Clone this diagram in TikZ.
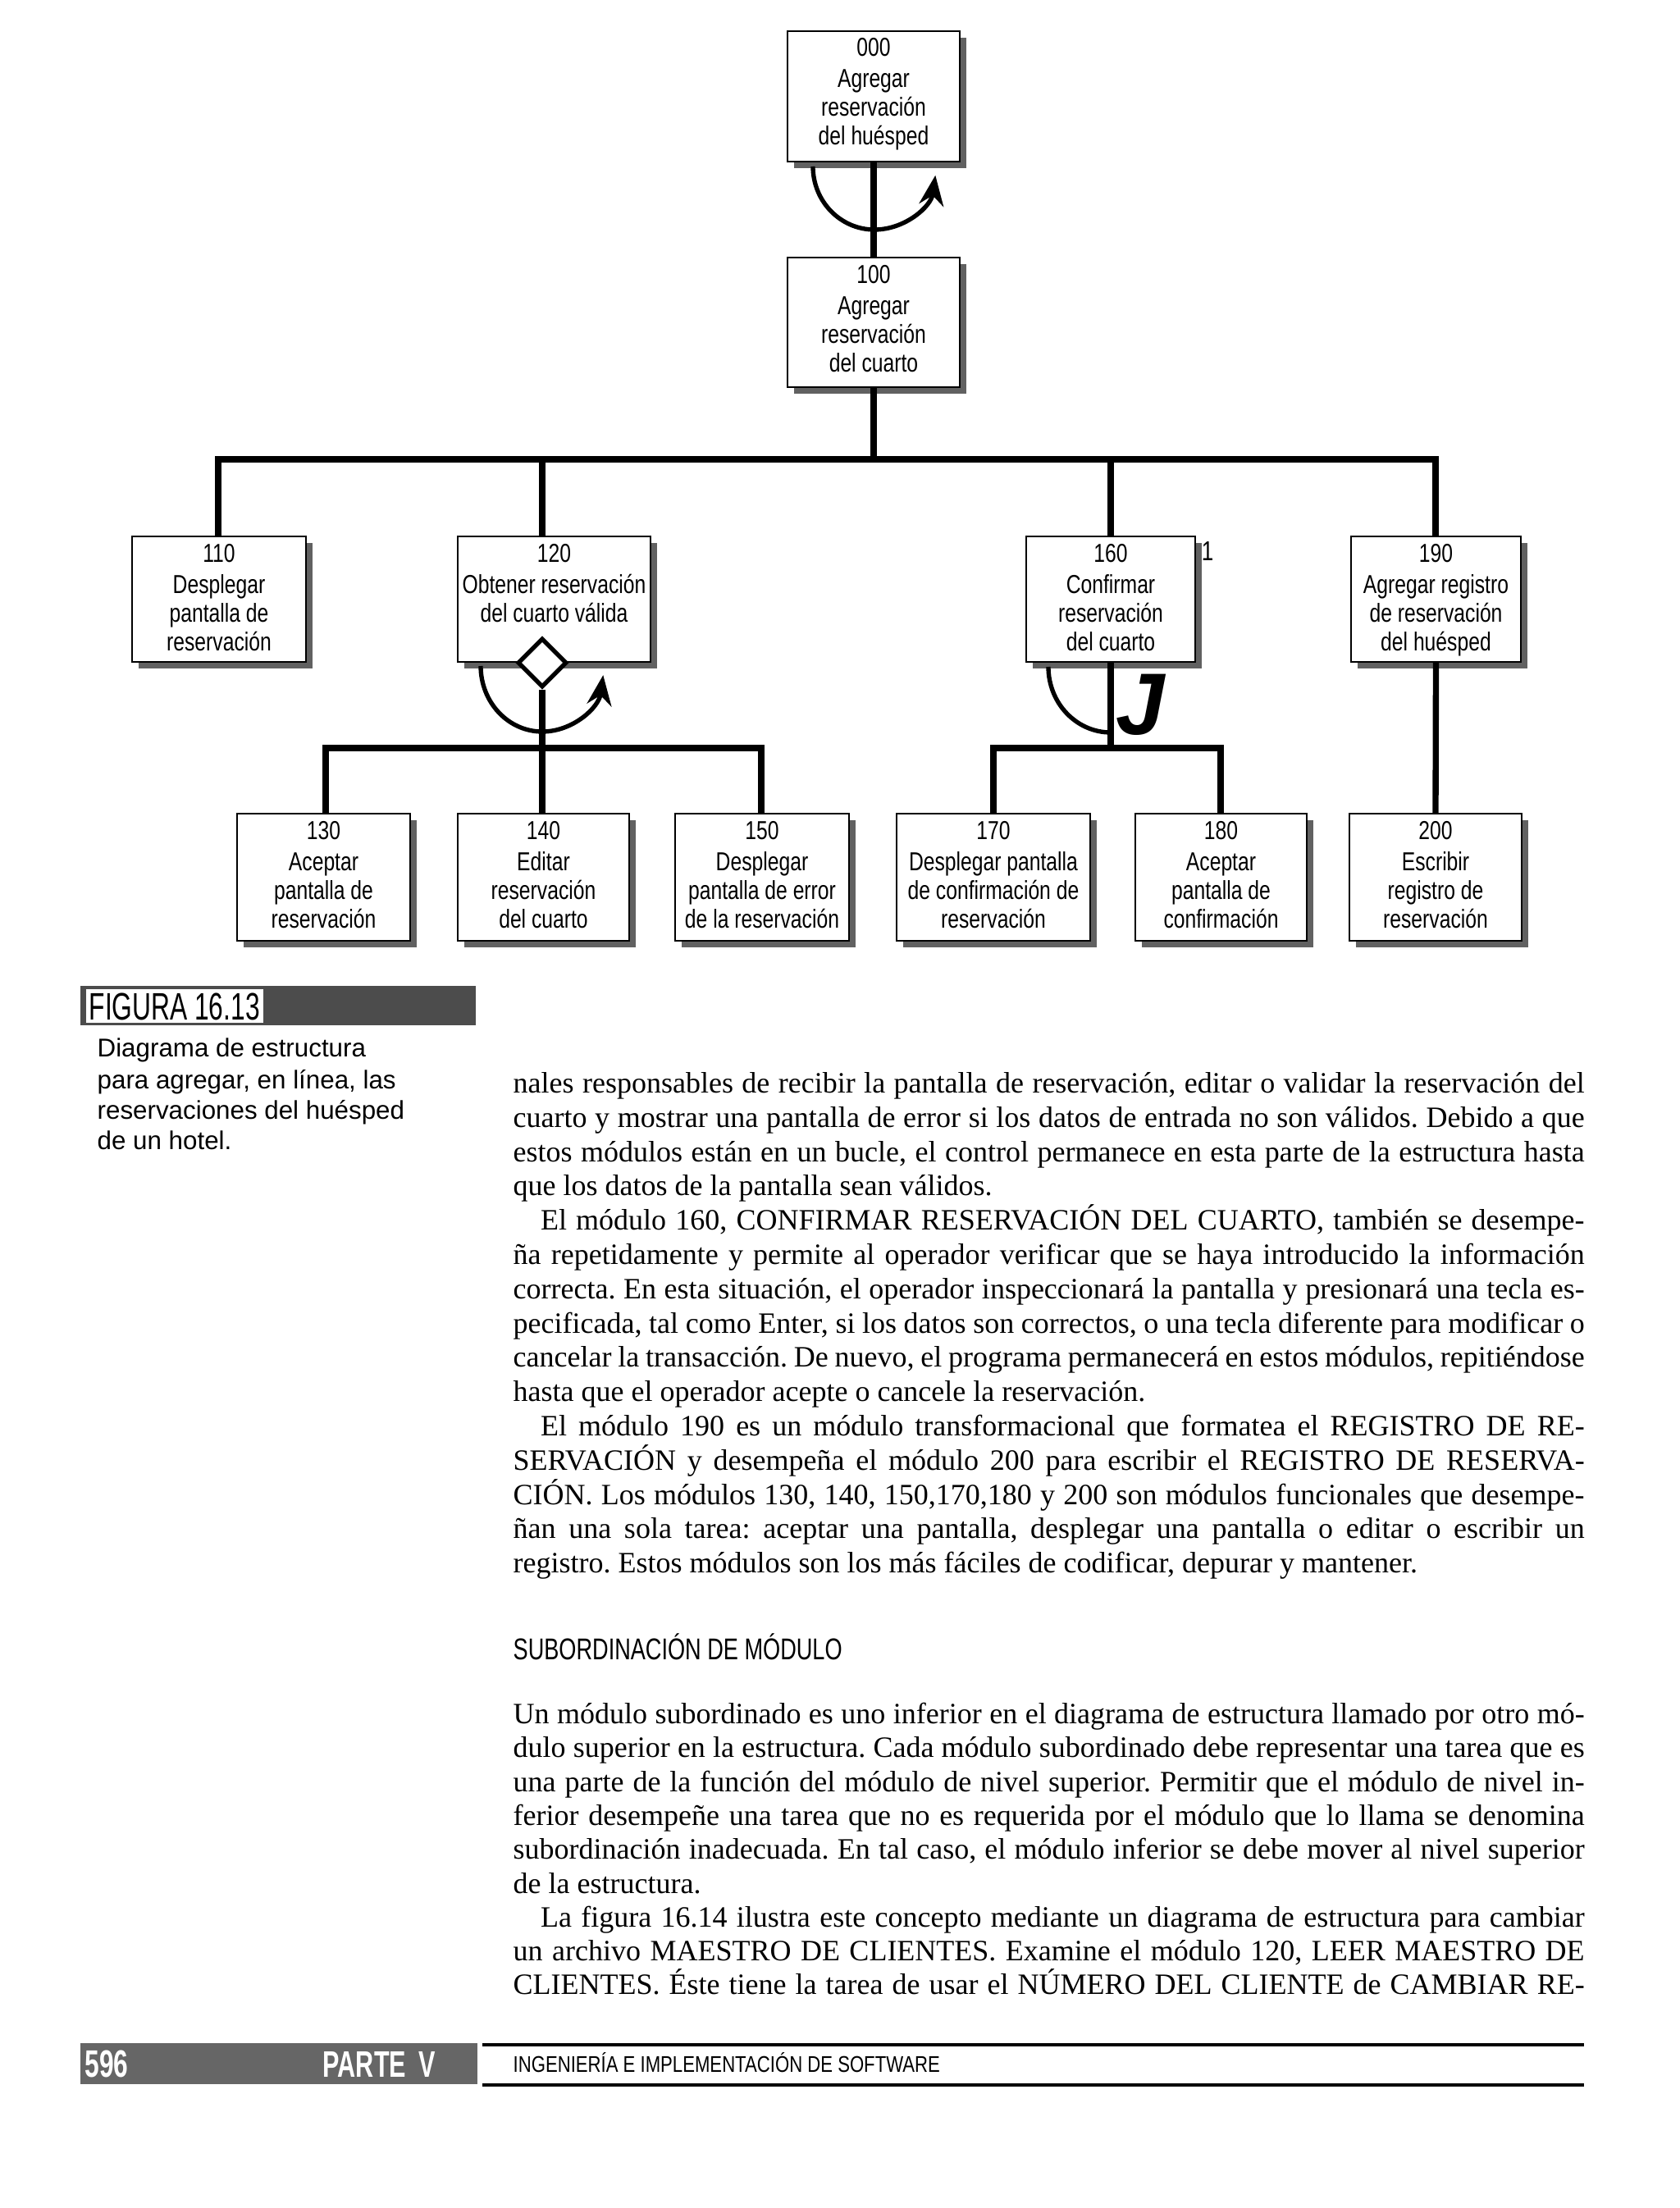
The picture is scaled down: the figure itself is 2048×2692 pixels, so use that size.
\documentclass[tikz,border=0pt]{standalone}
\usepackage{fontspec}
\setmainfont{Liberation Serif}
\newfontfamily\bodyfont{Liberation Serif}
\newfontfamily\narrowfont{Liberation Sans}[FakeStretch=0.78]
\newfontfamily\headfont{Liberation Sans}[FakeStretch=0.74]
\newfontfamily\footfont{Liberation Sans}[FakeStretch=0.80]
\newfontfamily\figfont{Liberation Sans}[FakeStretch=0.68]
\newfontfamily\plainsans{Liberation Sans}
\frenchspacing
\usetikzlibrary{arrows.meta,shapes.geometric,fit}

\tikzset{
  modframe/.style={draw=black, line width=0.7pt, fill=white, inner sep=0pt},
  shadowfill/.style={fill=black!62},
  boxtext/.style={font=\narrowfont\fontsize{9.5}{10.5}\selectfont, inner sep=0pt, anchor=base},
  conn/.style={line width=2.2pt, line join=miter},
  looparc/.style={line width=1.6pt},
  bodyline/.style={anchor=base west, inner sep=0pt, font=\bodyfont\fontsize{10.8}{13}\selectfont},
  captline/.style={anchor=base west, inner sep=0pt, font=\plainsans\fontsize{9.4}{11}\selectfont},
}

\newcommand\bl[1]{\hbox to 391.8pt{#1}}
\newcommand\modbox[7]{%
  \fill[shadowfill] ({#2+8},{#3+8}) rectangle ({#4+8},{#5+8});
  \node[modframe, fit={(#2,#3) (#4,#5)}] (#1) {};
  \node[boxtext] (#1-num) at ({(#2+#4)/2},{#3+31}) {#6};
  \node[boxtext] (#1-txt) at ({(#2+#4)/2},{#3+69}) {\begin{tabular}[t]{@{}c@{}}#7\end{tabular}};
}

\begin{document}
\begin{tikzpicture}[x=0.3pt, y=-0.3pt]
\useasboundingbox (0,0) rectangle (2048,2692);
\fill[white] (0,0) rectangle (2048,2692);

% ---- module boxes ----
\modbox{b000}{960}{38}{1170}{197}{000}{Agregar\\reservación\\del huésped}
\modbox{b100}{960}{314}{1170}{472}{100}{Agregar\\reservación\\del cuarto}
\modbox{b110}{161}{654}{373}{807}{110}{Desplegar\\pantalla de\\reservación}
\modbox{b120}{558}{654}{793}{807}{120}{Obtener reservación\\del cuarto válida}
\modbox{b160}{1251}{654}{1457}{807}{160}{Confirmar\\reservación\\del cuarto}
\modbox{b190}{1647}{654}{1854}{807}{190}{Agregar registro\\de reservación\\del huésped}
\modbox{b130}{289}{992}{500}{1147}{130}{Aceptar\\pantalla de\\reservación}
\modbox{b140}{558}{992}{767}{1147}{140}{Editar\\reservación\\del cuarto}
\modbox{b150}{823}{992}{1035}{1147}{150}{Desplegar\\pantalla de error\\de la reservación}
\modbox{b170}{1093}{992}{1329}{1147}{170}{Desplegar pantalla\\de confirmación de\\reservación}
\modbox{b180}{1384}{992}{1593}{1147}{180}{Aceptar\\pantalla de\\confirmación}
\modbox{b200}{1645}{992}{1855}{1147}{200}{Escribir\\registro de\\reservación}

% ---- connectors ----
\coordinate (busA) at (266,560);
\coordinate (busB) at (1750,560);
\coordinate (j120) at (661,560);
\draw[conn] (b000.south) -- (b100.north);
\draw[conn] (b100.south) -- (b100.south |- busA);
\draw[conn] (b110.north -| busA) -- (busA) -- (busB) -- (b190.north -| busB);
\draw[conn] (j120) -- (j120 |- b120.north);
\draw[conn] (b160.north) -- (b160.north |- busA);

\node[diamond, draw, line width=1.6pt, fill=white, minimum width=18pt, minimum height=18pt, inner sep=0pt] (d120) at (661,808) {};

\coordinate (busC) at (397,912);
\coordinate (busD) at (928,912);
\draw[conn] (d120.south) -- (d120.south |- busC);
\draw[conn] (b130.north -| busC) -- (busC) -- (busD) -- (b150.north -| busD);
\draw[conn] (b140.north -| d120.south) -- (d120.south |- busC);
\coordinate (busE) at (1211,912);
\coordinate (busF) at (1488,912);
\draw[conn] (b160.south) -- (b160.south |- busE);
\draw[conn] (b170.north -| busE) -- (busE) -- (busF) -- (b180.north -| busF);
\draw[conn] (b190.south) -- (b200.north);

% ---- loops ----
\coordinate (lpA) at (991,203);
\coordinate (lpB) at (586,812);
\coordinate (lpC) at (1278,813);
\draw[looparc, -{Stealth[length=11pt,width=9pt]}] (lpA) arc[start angle=180, end angle=8, x radius=75, y radius=77];
\draw[looparc, -{Stealth[length=11pt,width=9pt]}] (lpB) arc[start angle=180, end angle=8, x radius=75, y radius=80];
\draw[looparc] (lpC) arc[start angle=180, end angle=90, x radius=76, y radius=80];

% scan marks printed beside module 160
\node[anchor=base, inner sep=0pt, font=\plainsans\bfseries\itshape\fontsize{32}{32}\selectfont] (jmark) at (1390,895) {J};
\node[anchor=base, inner sep=0pt, font=\narrowfont\fontsize{10}{10}\selectfont] (onemark) at (1472,683) {1};

% ---- figure caption ----
\fill[black!70] (98,1202) rectangle (580,1250);
\node[anchor=base west, fill=white, inner sep=1.2pt, font=\figfont\fontsize{14}{14}\selectfont] (figlab) at (104,1243) {FIGURA 16.13};
\node[captline] (c1) at (118,1288) {Diagrama de estructura};
\node[captline] (c2) at (118,1327) {para agregar, en línea, las};
\node[captline] (c3) at (118,1364) {reservaciones del huésped};
\node[captline] (c4) at (118,1401) {de un hotel.};

% ---- body text ----
\node[bodyline] (l1) at (625,1332) {\bl{nales responsables de recibir la pantalla de reservación, editar o validar la reservación del}};
\node[bodyline] (l2) at (625,1374) {\bl{cuarto y mostrar una pantalla de error si los datos de entrada no son válidos. Debido a que}};
\node[bodyline] (l3) at (625,1416) {\bl{estos módulos están en un bucle, el control permanece en esta parte de la estructura hasta}};
\node[bodyline] (l4) at (625,1457) {que los datos de la pantalla sean válidos.};
\node[bodyline] (l5) at (625,1499) {\bl{\hspace*{10pt}El módulo 160, CONFIRMAR RESERVACIÓN DEL CUARTO, también se desempe-}};
\node[bodyline] (l6) at (625,1541) {\bl{ña repetidamente y permite al operador verificar que se haya introducido la información}};
\node[bodyline] (l7) at (625,1583) {\bl{correcta. En esta situación, el operador inspeccionará la pantalla y presionará una tecla es-}};
\node[bodyline] (l8) at (625,1625) {\bl{pecificada, tal como Enter, si los datos son correctos, o una tecla diferente para modificar o}};
\node[bodyline] (l9) at (625,1666) {\bl{cancelar la transacción. De nuevo, el programa permanecerá en estos módulos, repitiéndose}};
\node[bodyline] (l10) at (625,1708) {hasta que el operador acepte o cancele la reservación.};
\node[bodyline] (l11) at (625,1750) {\bl{\hspace*{10pt}El módulo 190 es un módulo transformacional que formatea el REGISTRO DE RE-}};
\node[bodyline] (l12) at (625,1792) {\bl{SERVACIÓN y desempeña el módulo 200 para escribir el REGISTRO DE RESERVA-}};
\node[bodyline] (l13) at (625,1834) {\bl{CIÓN. Los módulos 130, 140, 150,170,180 y 200 son módulos funcionales que desempe-}};
\node[bodyline] (l14) at (625,1875) {\bl{ñan una sola tarea: aceptar una pantalla, desplegar una pantalla o editar o escribir un}};
\node[bodyline] (l15) at (625,1917) {registro. Estos módulos son los más fáciles de codificar, depurar y mantener.};

\node[anchor=base west, inner sep=0pt, font=\headfont\fontsize{11}{13}\selectfont] (head) at (625,2023) {SUBORDINACIÓN DE MÓDULO};

\node[bodyline] (l16) at (625,2101) {\bl{Un módulo subordinado es uno inferior en el diagrama de estructura llamado por otro mó-}};
\node[bodyline] (l17) at (625,2142) {\bl{dulo superior en la estructura. Cada módulo subordinado debe representar una tarea que es}};
\node[bodyline] (l18) at (625,2184) {\bl{una parte de la función del módulo de nivel superior. Permitir que el módulo de nivel in-}};
\node[bodyline] (l19) at (625,2225) {\bl{ferior desempeñe una tarea que no es requerida por el módulo que lo llama se denomina}};
\node[bodyline] (l20) at (625,2266) {\bl{subordinación inadecuada. En tal caso, el módulo inferior se debe mover al nivel superior}};
\node[bodyline] (l21) at (625,2308) {de la estructura.};
\node[bodyline] (l22) at (625,2349) {\bl{\hspace*{10pt}La figura 16.14 ilustra este concepto mediante un diagrama de estructura para cambiar}};
\node[bodyline] (l23) at (625,2390) {\bl{un archivo MAESTRO DE CLIENTES. Examine el módulo 120, LEER MAESTRO DE}};
\node[bodyline] (l24) at (625,2431) {\bl{CLIENTES. Éste tiene la tarea de usar el NÚMERO DEL CLIENTE de CAMBIAR RE-}};

% ---- footer ----
\fill[black!60] (98,2491) rectangle (582,2541);
\draw[line width=1.1pt] (588,2493) -- (1931,2493);
\draw[line width=1.1pt] (588,2542) -- (1931,2542);
\node[anchor=base west, inner sep=0pt, text=white, font=\figfont\bfseries\fontsize{14}{14}\selectfont] (pg) at (103,2532) {596};
\node[anchor=base west, inner sep=0pt, text=white, font=\figfont\bfseries\fontsize{13.5}{14}\selectfont] (parte) at (393,2532) {PARTE};
\node[anchor=base west, inner sep=0pt, text=white, font=\figfont\bfseries\fontsize{13.5}{14}\selectfont] (partv) at (510,2532) {V};
\node[anchor=base west, inner sep=0pt, font=\footfont\fontsize{8.3}{10}\selectfont] (foot) at (625,2526) {INGENIERÍA E IMPLEMENTACIÓN DE SOFTWARE};
\end{tikzpicture}
\end{document}
